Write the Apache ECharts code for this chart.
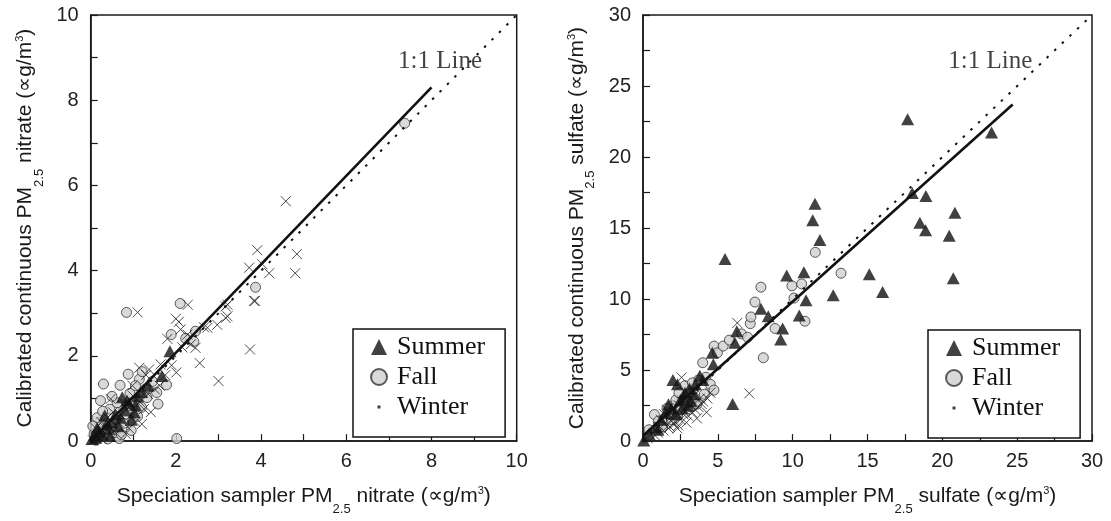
<!DOCTYPE html>
<html><head><meta charset="utf-8">
<script src="https://cdn.jsdelivr.net/npm/echarts@6/dist/echarts.min.js"></script>
<style>html,body{margin:0;padding:0;background:#fff}#c{width:1111px;height:521px}</style>
</head><body><div id="c"></div>
<script>
// ---------- data ----------
const nitrateTicks = [0, 2, 4, 6, 8, 10];
const sulfateTicks = [0, 5, 10, 15, 20, 25, 30];
const seasons = ['Summer', 'Fall', 'Winter'];

const nitrateSummer = [[0.03,0.05],[0.12,0.08],[0.2,0.22],[0.28,0.15],[0.33,0.6],[0.43,0.29],[0.5,0.45],[0.58,0.62],[0.65,0.35],[0.74,1.03],[0.8,0.72],[0.9,0.88],[0.95,0.5],[1.02,0.68],[1.1,1.05],[1.2,1.15],[1.35,1.3],[1.67,1.53],[1.86,2.11],[0.38,0.4],[0.7,0.55],[0.15,0.3],[0.85,0.95],[0.1,0.15],[0.45,0.12],[1.05,0.85]];
const nitrateFall = [[0.84,3.02],[2.10,3.23],[1.89,2.50],[2.23,2.41],[2.46,2.58],[2.42,2.34],[1.78,1.32],[0.88,1.57],[0.30,1.34],[0.69,1.31],[1.14,1.45],[1.21,1.63],[1.28,1.22],[1.55,1.14],[1.58,0.87],[0.23,0.95],[1.19,0.79],[0.20,0.44],[0.67,0.06],[2.02,0.06],[3.87,3.61],[7.37,7.46],[0.08,0.18],[0.12,0.02],[0.35,0.15],[0.45,0.75],[0.55,0.2],[0.62,0.9],[0.78,0.42],[0.92,1.12],[1.0,0.92],[1.05,1.3],[1.32,1.02],[0.15,0.55],[0.5,1.05],[1.45,1.4],[0.72,0.15],[0.4,0.05],[1.1,0.58],[0.05,0.35],[0.28,0.7],[0.6,0.5],[0.18,0.1],[0.95,0.25]];
const nitrateWinter = [[2.28,3.20],[1.10,3.02],[3.83,3.29],[2.0,2.87],[2.07,2.80],[2.11,2.62],[2.27,2.50],[2.66,2.67],[2.97,2.73],[3.17,2.89],[3.21,3.2],[2.35,2.27],[2.46,2.19],[2.56,1.83],[3.74,2.15],[3.0,1.41],[2.01,1.61],[1.64,1.80],[1.37,1.68],[1.14,1.72],[0.98,1.30],[1.41,0.68],[0.47,0.99],[0.82,0.17],[4.58,5.63],[3.91,4.48],[4.84,4.39],[3.72,4.07],[4.03,4.15],[4.19,3.94],[4.80,3.94],[3.86,3.29],[3.17,3.16],[3.21,2.93],[2.74,2.66],[0.05,0.02],[0.15,0.12],[0.25,0.05],[0.35,0.3],[0.52,0.32],[0.6,0.18],[0.7,0.62],[0.85,0.75],[0.95,0.62],[1.05,0.45],[1.15,0.92],[1.25,0.75],[1.5,1.22],[1.3,1.55],[0.52,0.68],[0.25,0.45],[0.12,0.3],[1.75,1.55],[1.9,1.78],[1.62,1.3],[2.15,2.2],[1.8,2.4],[0.9,0.3],[1.2,0.4],[0.4,0.55],[0.75,0.85],[1.0,1.05],[0.3,0.22],[0.65,0.45],[1.35,1.1]];
const nitrateFit = [[0, 0], [8, 8.3]];
const nitrateOneToOne = [[0, 0], [10, 10]];
const nitrateNoteAt = [[8.2, 8.9]];

const sulfateSummer = [[0.05,0.05],[0.4,0.5],[0.8,1.0],[1.2,1.5],[1.5,2.0],[1.9,2.3],[2.3,4.0],[2.5,2.9],[2.8,3.4],[3.1,3.7],[3.2,2.8],[3.5,4.0],[3.8,4.6],[4.0,4.3],[4.63,6.22],[4.7,5.41],[5.48,12.82],[5.99,2.61],[6.14,6.92],[6.27,7.74],[7.88,9.32],[8.37,8.79],[9.2,7.16],[9.33,7.93],[9.6,11.66],[10.44,8.84],[10.75,11.89],[10.89,9.91],[11.34,15.55],[11.49,16.71],[11.82,14.15],[12.71,10.26],[15.12,11.75],[16.01,10.49],[17.68,22.66],[17.99,17.46],[18.5,15.38],[18.88,14.85],[18.9,17.25],[20.46,14.45],[20.73,11.47],[20.84,16.08],[23.29,21.73],[2.0,4.3],[2.7,3.1],[1.7,2.6],[3.0,2.5],[2.2,1.9],[2.6,2.3],[3.4,3.3],[1.0,0.8]];
const sulfateFall = [[0.76,1.87],[1.02,1.40],[1.3,1.0],[1.5,1.6],[1.8,2.1],[2.0,2.5],[2.3,1.8],[2.5,2.2],[2.6,2.9],[2.8,3.9],[3.0,3.3],[3.2,2.4],[3.4,3.7],[3.5,3.0],[3.7,4.3],[3.99,5.52],[4.1,3.3],[4.2,4.5],[4.5,4.0],[4.74,3.59],[4.75,6.69],[4.97,6.22],[5.36,6.69],[5.77,7.11],[6.58,7.55],[6.99,7.31],[7.17,8.27],[7.21,8.74],[7.48,9.79],[7.88,10.84],[8.04,5.87],[8.82,7.93],[9.95,10.93],[10.09,10.07],[10.6,11.07],[10.82,8.44],[11.51,13.29],[13.23,11.82],[0.4,0.8],[1.9,1.5],[2.2,2.9],[3.6,2.6],[2.4,3.4],[1.6,2.3],[2.9,2.7],[3.3,4.1]];
const sulfateWinter = [[0.3,0.2],[0.8,0.4],[1.0,0.6],[1.2,1.5],[1.36,0.75],[1.5,1.3],[1.7,0.9],[1.8,1.0],[2.0,1.6],[2.2,2.0],[2.36,1.10],[2.5,1.5],[2.58,4.48],[2.6,2.8],[2.8,2.2],[2.9,1.3],[3.0,1.8],[3.2,2.5],[3.4,3.2],[3.5,2.2],[3.6,1.6],[3.8,3.0],[3.92,2.61],[4.0,2.8],[4.25,2.03],[4.5,3.4],[6.3,8.32],[7.10,3.36],[1.6,2.2],[2.7,1.9],[2.1,1.2],[3.3,2.0],[1.4,1.9],[2.4,2.5],[3.1,2.9],[3.7,2.4],[4.3,3.0],[1.9,1.4],[2.3,0.9]];
const sulfateFit = [[0, 0.38], [24.7, 23.7]];
const sulfateOneToOne = [[0, 0], [30, 30]];
const sulfateNoteAt = [[23.2, 26.7]];

const noteText = '1:1 Line';
const xNames = ['Speciation sampler PM{sub|2.5} nitrate (\u221Dg/m{sup|3})', 'Speciation sampler PM{sub|2.5} sulfate (\u221Dg/m{sup|3})'];
const yNames = ['Calibrated continuous PM{sub|2.5} nitrate (\u221Dg/m{sup|3})', 'Calibrated continuous PM{sub|2.5} sulfate (\u221Dg/m{sup|3})'];

// ---------- styles ----------
const INK = '#1a1a1a';
const SANS = 'Liberation Sans';
const SERIF = 'Liberation Serif';
const X_PATH = 'path://M0,0L10,10M10,0L0,10';
const DOT_PATH = 'path://M0,0M16,16M6.5,6.5h3v3h-3z';

const nameStyle = {
  fontFamily: SANS, fontSize: 21, color: INK, lineHeight: 40,
  rich: {
    sub: { fontFamily: SANS, fontSize: 13, lineHeight: 13, verticalAlign: 'bottom', color: INK },
    sup: { fontFamily: SANS, fontSize: 11, lineHeight: 11, verticalAlign: 'top', padding: [9, 0, 0, 0], color: INK }
  }
};

function axis(gridIndex, ticks, name, gap, isY) {
  return {
    type: 'value', gridIndex,
    min: ticks[0], max: ticks[ticks.length - 1], interval: ticks[1] - ticks[0],
    name, nameLocation: 'middle', nameGap: gap, nameRotate: isY ? 90 : 0,
    nameTextStyle: nameStyle,
    axisLine: { show: true, lineStyle: { color: INK, width: 1.5 } },
    axisTick: { show: true, inside: true, length: 7, lineStyle: { color: INK, width: 1.2 } },
    minorTick: { show: true, splitNumber: 2, length: 7, lineStyle: { color: INK, width: 1.2 } },
    axisLabel: { fontFamily: SANS, fontSize: 20, color: '#222', margin: isY ? 12 : 10 },
    splitLine: { show: false }
  };
}

function seriesFor(idx, summer, fall, winter, fit, one, noteAt) {
  const ax = { xAxisIndex: idx, yAxisIndex: idx };
  return [
    Object.assign({ type: 'scatter', name: seasons[0], data: summer, symbol: 'triangle', symbolSize: [13, 12],
      itemStyle: { color: '#111' }, z: 3 }, ax),
    Object.assign({ type: 'scatter', name: seasons[1], data: fall, symbol: 'circle', symbolSize: 10,
      itemStyle: { color: '#cfcfcf', borderColor: '#333', borderWidth: 1 }, z: 2 }, ax),
    Object.assign({ type: 'scatter', name: seasons[2], data: winter, symbol: X_PATH, symbolSize: 10,
      itemStyle: { color: 'rgba(0,0,0,0)', borderColor: '#222', borderWidth: 1 }, z: 2 }, ax),
    Object.assign({ type: 'line', name: 'fit' + idx, data: fit, showSymbol: false, symbol: 'none',
      lineStyle: { color: '#111', width: 2.6 }, z: 5, silent: true }, ax),
    Object.assign({ type: 'line', name: 'one' + idx, data: one, showSymbol: false, symbol: 'none',
      lineStyle: { color: '#111', width: 2, type: [2.5, 8] }, z: 4, silent: true }, ax),
    Object.assign({ type: 'scatter', name: 'note' + idx, data: noteAt, symbolSize: 1, silent: true,
      itemStyle: { color: 'rgba(0,0,0,0)' },
      label: { show: true, position: 'inside', formatter: noteText, fontFamily: SERIF, fontSize: 25, color: '#111' }, z: 6 }, ax)
  ];
}

function legendAt(left, top) {
  return {
    orient: 'vertical', left, top,
    data: [
      { name: seasons[0], icon: 'triangle' },
      { name: seasons[1], icon: 'circle' },
      { name: seasons[2], icon: DOT_PATH, itemStyle: { color: '#111', borderWidth: 0 } }
    ],
    itemWidth: 16, itemHeight: 16, itemGap: 4, symbolKeepAspect: true,
    padding: [5, 20, 17, 17],
    borderColor: '#111', borderWidth: 1.5, backgroundColor: '#fff',
    textStyle: { fontFamily: SERIF, fontSize: 26, color: '#111', lineHeight: 26, padding: [0, 0, 0, 5] },
    selectedMode: false
  };
}

const chart = echarts.init(document.getElementById('c'), null, { renderer: 'canvas' });
chart.setOption({
  animation: false,
  backgroundColor: '#fff',
  grid: [
    { left: 90.7, top: 15, width: 426, height: 429, show: true, borderColor: INK, borderWidth: 1.5 },
    { left: 643, top: 15, width: 449, height: 429, show: true, borderColor: INK, borderWidth: 1.5 }
  ],
  xAxis: [axis(0, nitrateTicks, xNames[0], 26, false), axis(1, sulfateTicks, xNames[1], 26, false)],
  yAxis: [axis(0, nitrateTicks, yNames[0], 45, true), axis(1, sulfateTicks, yNames[1], 46, true)],
  legend: [legendAt(353, 329), legendAt(928, 330)],
  series: [].concat(
    seriesFor(0, nitrateSummer, nitrateFall, nitrateWinter, nitrateFit, nitrateOneToOne, nitrateNoteAt),
    seriesFor(1, sulfateSummer, sulfateFall, sulfateWinter, sulfateFit, sulfateOneToOne, sulfateNoteAt)
  )
});
</script>
</body></html>
